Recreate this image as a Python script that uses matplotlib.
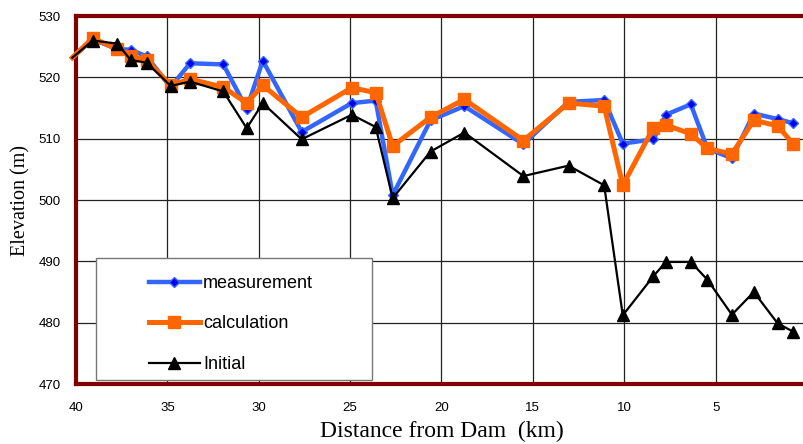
import matplotlib
matplotlib.use("Agg")
import matplotlib.pyplot as plt
from matplotlib.patches import Rectangle

# distances (km from dam) and elevations (m)
dist = [40.2, 39.09, 37.74, 37.0, 36.13, 34.82, 33.76, 31.94, 30.66, 29.78,
        27.65, 24.91, 23.6, 22.67, 20.6, 18.75, 15.52, 13.05, 11.1, 10.08,
        8.4, 7.72, 6.36, 5.45, 4.11, 2.91, 1.61, 0.74]

measurement = [523.2, 526.2, 524.6, 524.5, 523.4, 518.4, 522.3, 522.1, 514.9, 522.7,
               511.1, 515.8, 516.2, 500.8, 513.0, 515.3, 509.1, 516.0, 516.3, 509.2,
               509.9, 513.9, 515.6, 508.4, 506.8, 514.1, 513.2, 512.5]
calculation = [523.2, 526.4, 524.6, 523.4, 522.8, 518.7, 519.7, 518.4, 515.8, 518.7,
               513.5, 518.3, 517.5, 508.8, 513.5, 516.4, 509.7, 515.8, 515.3, 502.4,
               511.8, 512.2, 510.8, 508.4, 507.5, 513.0, 512.1, 509.1]
initial = [523.2, 526.0, 525.5, 522.8, 522.4, 518.6, 519.3, 517.7, 511.7, 515.8,
           509.9, 513.9, 511.9, 500.3, 507.9, 511.0, 503.9, 505.6, 502.4, 481.2,
           487.6, 489.9, 489.9, 487.0, 481.3, 485.0, 479.9, 478.5]

x_ticks = [40, 35, 30, 25, 20, 15, 10, 5, 0]
y_ticks = [470, 480, 490, 500, 510, 520, 530]

W, H = 804, 444
AX_L, AX_B, AX_W, AX_H = 76, 60, 731, 368   # axes box in pixels (bottom-up)
fig = plt.figure(figsize=(W / 100, H / 100), dpi=100)
ax = fig.add_axes([AX_L / W, AX_B / H, AX_W / W, AX_H / H])

marks = list(range(1, len(dist)))  # first point sits off the plot edge, no marker
ax.plot(dist, measurement, color="#3366ff", lw=3.2, marker="D", ms=5, markevery=marks,
        mfc="#0000ee", mec="#3366ff", mew=1, label="measurement", clip_on=False, zorder=3)
ax.plot(dist, calculation, color="#ff6600", lw=3.6, marker="s", ms=8, markevery=marks,
        mfc="#ff6600", mec="#ff6600", label="calculation", clip_on=False, zorder=4)
ax.plot(dist, initial, color="black", lw=1.6, marker="^", ms=8, markevery=marks,
        label="Initial", clip_on=False, zorder=5)

ax.set_xlim(40, 0)
ax.set_ylim(470, 530)
ax.set_xticks(x_ticks)
ax.set_yticks(y_ticks)
ax.grid(True, color="#222222", lw=0.9)
ax.set_axisbelow(True)
ax.tick_params(axis="x", length=0, labelsize=9.5, pad=13)
ax.tick_params(axis="y", length=0, labelsize=9.5, pad=11)
for lab in ax.get_xticklabels() + ax.get_yticklabels():
    lab.set_family("Liberation Sans")

for s in ax.spines.values():
    s.set_color("#800000")
    s.set_linewidth(3)

ax.set_xlabel("Distance from Dam  (km)", family="Liberation Serif", fontsize=17, labelpad=5)
ax.set_ylabel("Elevation (m)", family="Liberation Serif", fontsize=14.5, labelpad=6)

# legend box drawn separately so the handles can sit well inside it
box = Rectangle(((96 - AX_L) / AX_W, (64 - AX_B) / AX_H), 276 / AX_W, 122 / AX_H,
                transform=ax.transAxes, facecolor="white", edgecolor="#777777",
                lw=1, zorder=9, clip_on=False)
ax.add_patch(box)
leg = ax.legend(loc="upper left", bbox_to_anchor=(149 / W, 1 - 275 / H),
                bbox_transform=fig.transFigure, frameon=False,
                prop={"family": "Liberation Sans", "size": 13}, handlelength=2.8,
                labelspacing=1.3, borderaxespad=0, borderpad=0, handletextpad=0.2)
leg.set_zorder(10)

fig.savefig("out.png", dpi=100)
